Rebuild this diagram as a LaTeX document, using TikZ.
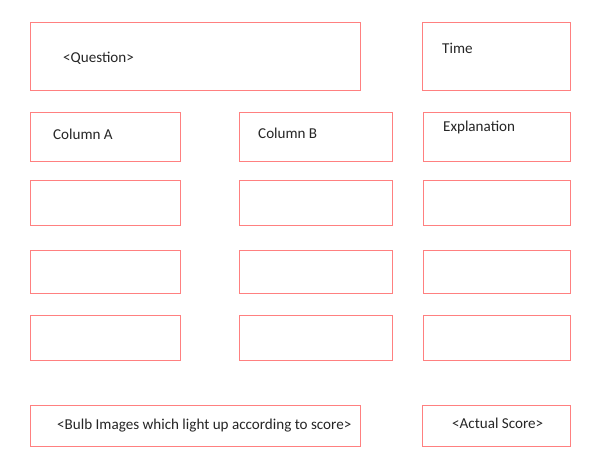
\documentclass[tikz,border=0pt]{standalone}
\usepackage{fontspec}
\setmainfont{Carlito}
\definecolor{boxred}{HTML}{FF8080}
\definecolor{txt}{HTML}{262626}
\begin{document}
\begin{tikzpicture}[x=1pt,y=-1pt,
  box/.style={draw=boxred, line width=1pt, inner sep=0pt},
  lbl/.style={anchor=base west, inner sep=0pt, text=txt, font=\fontsize{15.1}{17}\selectfont}]
\useasboundingbox[fill=white] (0,0) rectangle (600,450);
% boxes
\node[box, minimum width=330pt, minimum height=68pt, anchor=north west] (q) at (30,22) {};
\node[box, minimum width=148pt, minimum height=68pt, anchor=north west] (time) at (422,22) {};
\foreach \r/\y/\h in {1/112/49, 2/180/45, 3/250/43, 4/315/45}{
  \node[box, minimum width=150pt, minimum height=\h pt, anchor=north west] (a\r) at (30,\y) {};
  \node[box, minimum width=153pt, minimum height=\h pt, anchor=north west] (b\r) at (239,\y) {};
  \node[box, minimum width=147pt, minimum height=\h pt, anchor=north west] (c\r) at (423,\y) {};
}
\node[box, minimum width=330pt, minimum height=41pt, anchor=north west] (bulb) at (30,405) {};
\node[box, minimum width=148pt, minimum height=41pt, anchor=north west] (score) at (422,405) {};
% labels
\node[lbl] (tq) at (63,62) {<Question>};
\node[lbl] (tt) at (442,53) {Time};
\node[lbl] (ta) at (53,139) {Column A};
\node[lbl] (tb) at (258,138) {Column B};
\node[lbl] (te) at (443,131) {Explanation};
\node[lbl] (tbulb) at (57,429) {<Bulb Images which light up according to score>};
\node[lbl] (ts) at (452,428) {<Actual Score>};
\end{tikzpicture}
\end{document}
